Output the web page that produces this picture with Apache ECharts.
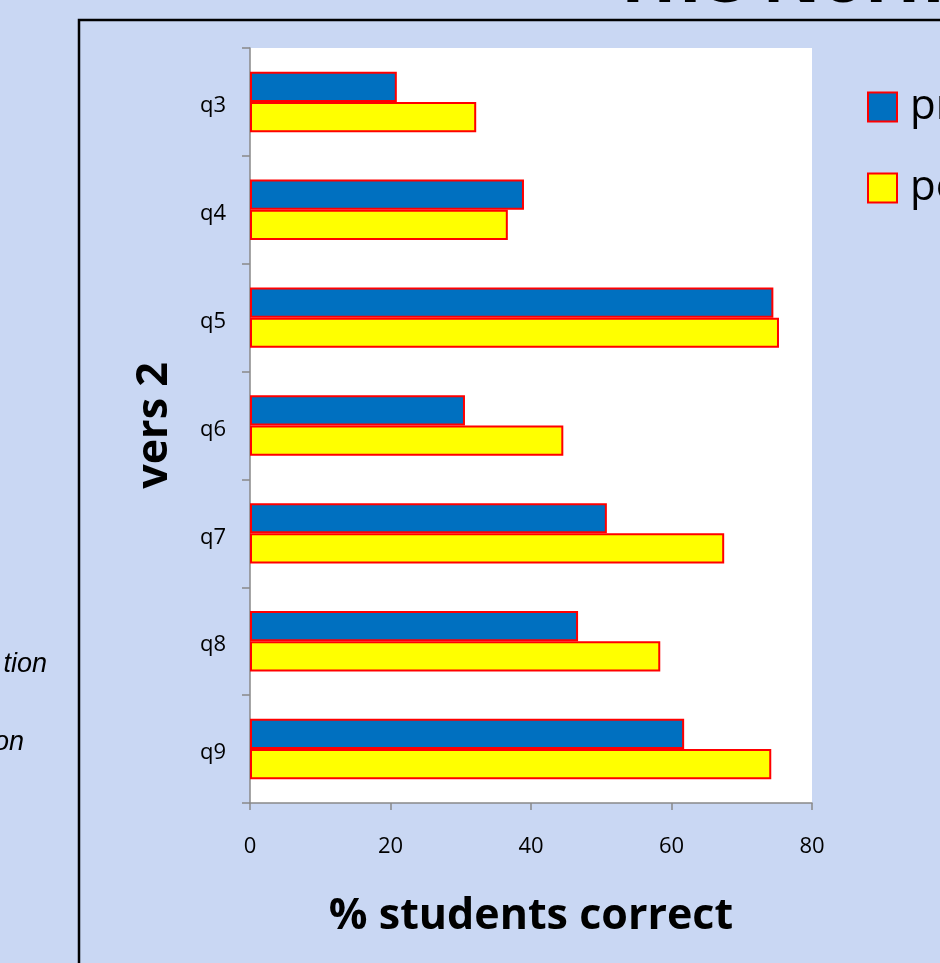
<!DOCTYPE html>
<html>
<head>
<meta charset="utf-8">
<title>vers 2 - % students correct</title>
<script src="https://cdn.jsdelivr.net/npm/echarts@6/dist/echarts.min.js"></script>
<style>
  html, body { margin: 0; padding: 0; background: #c9d7f3; }
  #chart { width: 940px; height: 963px; }
</style>
</head>
<body>
<div id="chart"></div>
<script>
// questions, top to bottom
const categories = ['q3', 'q4', 'q5', 'q6', 'q7', 'q8', 'q9']
const seriesNames = ['pre', 'post']
// % students correct
const preValues = [20.9, 39.0, 74.5, 30.6, 50.8, 46.7, 61.8]
const postValues = [32.2, 36.7, 75.3, 44.6, 67.5, 58.4, 74.2]
const xTicks = { min: 0, max: 80, interval: 20 }

const chart = echarts.init(document.getElementById('chart'))

const fontMain = '"Open Sans", "DejaVu Sans", sans-serif'
const fontSide = '"Liberation Sans", Arial, sans-serif'
const barBorder = { borderColor: '#ff0000', borderWidth: 2 }

const option = {
  backgroundColor: 'transparent',
  animation: false,
  textStyle: { fontFamily: fontMain },
  grid: {
    left: 250,
    top: 48,
    right: 128,
    bottom: 160,
    show: true,
    backgroundColor: '#ffffff',
    borderWidth: 0
  },
  legend: {
    data: seriesNames,
    orient: 'vertical',
    left: 862,
    top: 81,
    icon: 'rect',
    itemWidth: 29,
    itemHeight: 29,
    itemGap: 39,
    itemStyle: { borderColor: '#ff0000', borderWidth: 2 },
    textStyle: { fontSize: 42, color: '#000', fontFamily: fontMain, padding: [0, 0, 0, 8] }
  },
  xAxis: {
    type: 'value',
    min: xTicks.min,
    max: xTicks.max,
    interval: xTicks.interval,
    name: '% students correct',
    nameLocation: 'middle',
    nameGap: 92,
    nameTextStyle: { fontSize: 43, fontWeight: 'bold', color: '#000' },
    axisLine: { show: true, lineStyle: { color: '#898989', width: 1.5 } },
    axisTick: { show: true, length: 7, lineStyle: { color: '#898989', width: 1.5 } },
    axisLabel: { fontSize: 22, color: '#000', margin: 33 },
    splitLine: { show: false }
  },
  yAxis: {
    type: 'category',
    data: categories,
    inverse: true,
    name: 'vers 2',
    nameLocation: 'middle',
    nameGap: 74,
    nameRotate: 90,
    nameTextStyle: { fontSize: 43, fontWeight: 'bold', color: '#000' },
    axisLine: { show: true, lineStyle: { color: '#898989', width: 1.5 } },
    axisTick: { show: true, length: 8, lineStyle: { color: '#898989', width: 1.5 } },
    axisLabel: { fontSize: 22, color: '#000', margin: 24, lineHeight: 30, verticalAlign: 'top', padding: [-11, 0, 0, 0] }
  },
  series: [
    {
      name: seriesNames[0],
      type: 'bar',
      data: preValues,
      barGap: '0%',
      barCategoryGap: '44%',
      itemStyle: Object.assign({ color: '#0070c0' }, barBorder)
    },
    {
      name: seriesNames[1],
      type: 'bar',
      data: postValues,
      barGap: '0%',
      barCategoryGap: '44%',
      itemStyle: Object.assign({ color: '#ffff00' }, barBorder)
    }
  ],
  graphic: [
    // slide frame around the chart
    {
      type: 'rect',
      shape: { x: 79, y: 20, width: 900, height: 980 },
      style: { fill: 'none', stroke: '#000', lineWidth: 2.5 },
      z: -1
    },
    // slide title, mostly off the top edge
    {
      type: 'text',
      style: {
        text: 'The Normalized Gain',
        x: 612,
        y: 17,
        fontSize: 72,
        fontWeight: 'bold',
        fontFamily: fontMain,
        fill: '#000',
        verticalAlign: 'bottom'
      }
    },
    // fragments of side text cut by the left edge
    {
      type: 'text',
      style: {
        text: 'tion', x: 47, y: 678, align: 'right', verticalAlign: 'bottom',
        fontSize: 27, fontStyle: 'italic', fontFamily: fontSide, fill: '#000'
      }
    },
    {
      type: 'text',
      style: {
        text: 'on', x: 24, y: 756, align: 'right', verticalAlign: 'bottom',
        fontSize: 27, fontStyle: 'italic', fontFamily: fontSide, fill: '#000'
      }
    }
  ]
}

chart.setOption(option)
</script>
</body>
</html>
